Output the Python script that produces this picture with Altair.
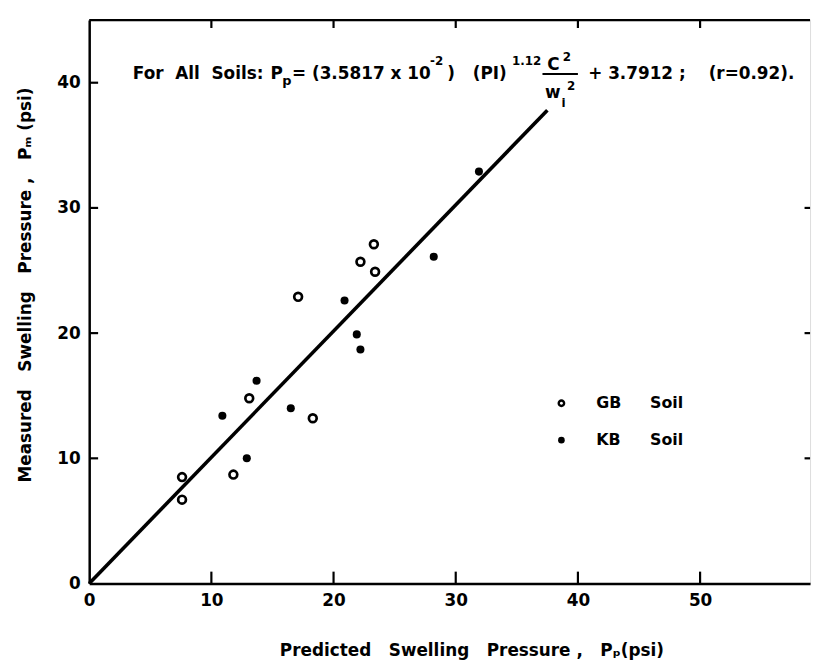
import altair as alt
import pandas as pd

# ---- data ----
gb_pred = [7.6, 7.6, 11.8, 13.1, 18.3, 17.1, 22.2, 23.3, 23.4]
gb_meas = [8.5, 6.7, 8.7, 14.8, 13.2, 22.9, 25.7, 27.1, 24.9]
kb_pred = [10.9, 13.7, 12.9, 16.5, 20.9, 21.9, 22.2, 28.2, 31.9]
kb_meas = [13.4, 16.2, 10.0, 14.0, 22.6, 19.9, 18.7, 26.1, 32.9]
fit_x = [0.0, 37.5]
fit_y = [0.0, 37.8]
x_ticks = [0, 10, 20, 30, 40, 50]
y_ticks = [0, 10, 20, 30, 40]
X_MAX = 59
Y_MAX = 45

FONT = "DejaVu Sans"
S = "\u00a0"  # non-breaking space to keep wide spacing
xs = alt.Scale(domain=[0, X_MAX], nice=False, zero=True)
ys = alt.Scale(domain=[0, Y_MAX], nice=False, zero=True)

gb = pd.DataFrame({"x": gb_pred, "y": gb_meas})
kb = pd.DataFrame({"x": kb_pred, "y": kb_meas})
fit = pd.DataFrame({"x": fit_x, "y": fit_y})

x_title = f"Predicted{S*3}Swelling{S*3}Pressure{S},{S*3}Pₚ(psi)"
y_title = f"Measured{S*3}Swelling{S*3}Pressure{S},{S*3}Pₘ{S}(psi)"

xax = alt.Axis(values=x_ticks, ticks=False, grid=False, domainColor="black", domainWidth=2.5,
               labelFont=FONT, labelFontSize=17, labelFontWeight="bold", labelColor="black",
               labelPadding=9, labelFlush=False, title=x_title,
               titleFont=FONT, titleFontSize=17, titleFontWeight="bold", titleColor="black",
               titleX=386, titleY=68, titleBaseline="middle", titleAnchor="middle")
yax = alt.Axis(values=y_ticks, ticks=False, grid=False, domainColor="black", domainWidth=2.5,
               labelFont=FONT, labelFontSize=17, labelFontWeight="bold", labelColor="black",
               labelPadding=9, labelFlush=False, title=y_title,
               titleFont=FONT, titleFontSize=17, titleFontWeight="bold", titleColor="black",
               titleX=-64, titleY=267, titleBaseline="middle", titleAnchor="middle", titleAngle=270)

line = alt.Chart(fit).mark_line(color="black", strokeWidth=3.6).encode(
    x=alt.X("x:Q", scale=xs, axis=xax),
    y=alt.Y("y:Q", scale=ys, axis=yax),
)

pts_gb = alt.Chart(gb).mark_point(shape="circle", filled=False, color="black", size=62,
                                  strokeWidth=2.7, opacity=1).encode(
    x=alt.X("x:Q", scale=xs), y=alt.Y("y:Q", scale=ys))
pts_kb = alt.Chart(kb).mark_point(shape="circle", filled=True, color="black", size=66,
                                  opacity=1).encode(
    x=alt.X("x:Q", scale=xs), y=alt.Y("y:Q", scale=ys))

# frame ticks (pointing inwards) and top border
tick_rows = []
for v in x_ticks[1:]:
    tick_rows.append({"x": v, "x2": v, "y": 0, "y2": 0.95})
    tick_rows.append({"x": v, "x2": v, "y": Y_MAX, "y2": Y_MAX - 0.63})
for v in y_ticks[1:]:
    tick_rows.append({"x": 0, "x2": 0.73, "y": v, "y2": v})
for v in [10, 20, 30]:
    tick_rows.append({"x": X_MAX - 0.45, "x2": X_MAX, "y": v, "y2": v})
tick_rows.append({"x": 0, "x2": X_MAX, "y": Y_MAX, "y2": Y_MAX})
ticks = alt.Chart(pd.DataFrame(tick_rows)).mark_rule(color="black", strokeWidth=2.2).encode(
    x=alt.X("x:Q", scale=xs), x2="x2:Q", y=alt.Y("y:Q", scale=ys), y2="y2:Q")

# equation annotation
eq_left = pd.DataFrame([
    {"x": 3.57, "y": 40.32, "t": f"For{S}{S}All{S}{S}Soils:", "s": 17},
    {"x": 14.83, "y": 40.32, "t": "P", "s": 17},
    {"x": 15.8, "y": 39.85, "t": "p", "s": 13},
    {"x": 16.6, "y": 40.32, "t": f"={S}(3.5817{S}x{S}10", "s": 17},
    {"x": 27.9, "y": 41.4, "t": "-2", "s": 12},
    {"x": 29.3, "y": 40.32, "t": ")", "s": 17},
    {"x": 31.4, "y": 40.32, "t": "(PI)", "s": 17},
    {"x": 34.6, "y": 41.4, "t": "1.12", "s": 12},
    {"x": 38.75, "y": 41.75, "t": "2", "s": 12},
    {"x": 39.1, "y": 39.4, "t": "2", "s": 12},
    {"x": 40.84, "y": 40.32, "t": f"+{S}3.7912{S};", "s": 17},
    {"x": 50.7, "y": 40.32, "t": "(r=0.92).", "s": 17},
])
eq_center = pd.DataFrame([
    {"x": 38.0, "y": 41.05, "t": "C", "s": 17},
    {"x": 37.95, "y": 38.8, "t": "w", "s": 17},
    {"x": 38.82, "y": 38.1, "t": "i", "s": 12},
])
txt_l = alt.Chart(eq_left).mark_text(align="left", baseline="alphabetic", font=FONT,
                                     fontWeight="bold", color="black").encode(
    x=alt.X("x:Q", scale=xs), y=alt.Y("y:Q", scale=ys), text="t:N",
    size=alt.Size("s:Q", scale=None))
txt_c = alt.Chart(eq_center).mark_text(align="center", baseline="alphabetic", font=FONT,
                                       fontWeight="bold", color="black").encode(
    x=alt.X("x:Q", scale=xs), y=alt.Y("y:Q", scale=ys), text="t:N",
    size=alt.Size("s:Q", scale=None))
bar = alt.Chart(pd.DataFrame([{"x": 37.1, "x2": 40.0, "y": 40.7}])).mark_rule(
    color="black", strokeWidth=2).encode(x=alt.X("x:Q", scale=xs), x2="x2:Q", y=alt.Y("y:Q", scale=ys))

# legend
leg_open = alt.Chart(pd.DataFrame([{"x": 38.65, "y": 14.4}])).mark_point(
    shape="circle", filled=False, color="black", size=30, strokeWidth=2.4, opacity=1).encode(
    x=alt.X("x:Q", scale=xs), y=alt.Y("y:Q", scale=ys))
leg_fill = alt.Chart(pd.DataFrame([{"x": 38.65, "y": 11.45}])).mark_point(
    shape="circle", filled=True, color="black", size=45, opacity=1).encode(
    x=alt.X("x:Q", scale=xs), y=alt.Y("y:Q", scale=ys))
leg_txt = alt.Chart(pd.DataFrame([
    {"x": 41.5, "y": 14.4, "t": "GB"},
    {"x": 45.9, "y": 14.4, "t": "Soil"},
    {"x": 41.5, "y": 11.45, "t": "KB"},
    {"x": 45.9, "y": 11.45, "t": "Soil"},
])).mark_text(align="left", baseline="middle", font=FONT, fontWeight="bold", fontSize=16,
              color="black").encode(x=alt.X("x:Q", scale=xs), y=alt.Y("y:Q", scale=ys), text="t:N")

chart = alt.layer(line, ticks, pts_gb, pts_kb, bar, txt_l, txt_c, leg_open, leg_fill, leg_txt).properties(
    width=728, height=569,
    autosize=alt.AutoSizeParams(type="none"),
    padding={"left": 82, "top": 9, "right": 5, "bottom": 75},
).configure_view(stroke=None).configure(background="white")

chart.save("out.html", embed_options={"renderer": "svg", "actions": False})
